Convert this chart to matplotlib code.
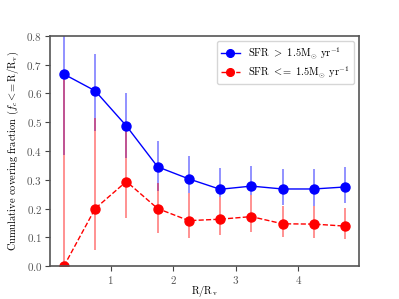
import numpy as np
import matplotlib
matplotlib.use('Agg')
import matplotlib.pyplot as plt

plt.rcParams['font.family'] = 'serif'
plt.rcParams['font.serif'] = ['cmr10']
plt.rcParams['mathtext.fontset'] = 'cm'
plt.rcParams['axes.formatter.use_mathtext'] = True

# Radial bins (R/Rv)
r = [0.25, 0.75, 1.25, 1.75, 2.25, 2.75, 3.25, 3.75, 4.25, 4.75]

# High SFR sample
high_frac = [0.667, 0.609, 0.487, 0.345, 0.303, 0.267, 0.278, 0.268, 0.268, 0.275]
high_lo = [0.385, 0.47, 0.375, 0.26, 0.253, 0.24, 0.246, 0.212, 0.208, 0.218]
high_hi = [0.92, 0.736, 0.6, 0.435, 0.382, 0.34, 0.348, 0.337, 0.336, 0.345]

# Low SFR sample
low_frac = [0.0, 0.2, 0.294, 0.2, 0.158, 0.163, 0.172, 0.147, 0.146, 0.139]
low_lo = [0.0, 0.055, 0.167, 0.114, 0.097, 0.107, 0.119, 0.1, 0.098, 0.093]
low_hi = [0.66, 0.515, 0.47, 0.29, 0.253, 0.24, 0.246, 0.208, 0.208, 0.203]

high_err = [np.array(high_frac) - np.array(high_lo), np.array(high_hi) - np.array(high_frac)]
low_err = [np.array(low_frac) - np.array(low_lo), np.array(low_hi) - np.array(low_frac)]

fig, ax = plt.subplots(figsize=(3.99, 2.99), dpi=100)

ax.errorbar(r, high_frac, yerr=high_err, fmt='none', ecolor='blue', alpha=0.5, elinewidth=1.2)
ax.errorbar(r, low_frac, yerr=low_err, fmt='none', ecolor='red', alpha=0.5, elinewidth=1.2)
ax.plot(r, high_frac, 'o-', color='blue', markersize=6.5, lw=1,
        label=r'SFR $>$ 1.5M$_{\odot}$ yr$^{-1}$')
ax.plot(r, low_frac, 'o--', color='red', markersize=6.5, lw=1,
        label=r'SFR $<\!\!=$ 1.5M$_{\odot}$ yr$^{-1}$')

ax.set_ylim(0, 0.8)
ax.set_xticks([1, 2, 3, 4])
ax.set_xlabel(r'R/R$_\mathrm{v}$', fontsize=7.5, labelpad=-1.5)
ax.set_ylabel(r'Cumulative covering fraction ($f_c <\!\!= \mathrm{R/R_v}$)', fontsize=7.5)
ax.tick_params(labelsize=8, length=3.5, pad=2, colors='#444444', labelcolor='#555555')
for s in ax.spines.values():
    s.set_color('#555555')
    s.set_linewidth(1.2)
ax.legend(loc='upper right', fontsize=7.5, handlelength=1.8, labelspacing=0.3, markerscale=0.85)

plt.savefig('out.png', dpi=100)
